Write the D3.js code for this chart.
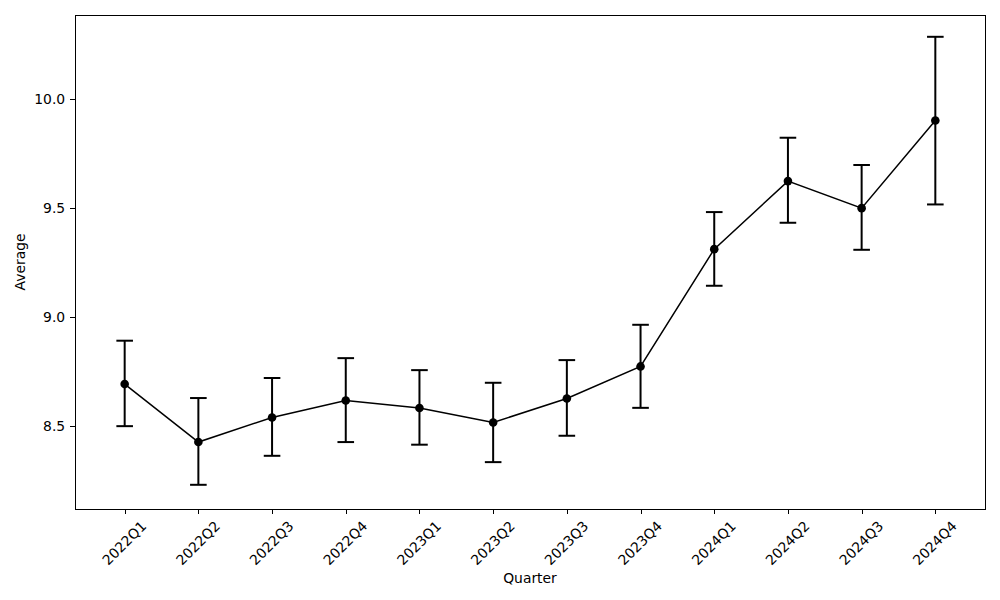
<!DOCTYPE html>
<html><head><meta charset="utf-8">
<script src="https://cdn.jsdelivr.net/npm/d3@7"></script>
<style>body{margin:0;background:#fff}svg{display:block}text{font-family:"DejaVu Sans",sans-serif;fill:#000}</style>
</head><body><svg id="c" width="1000" height="600"></svg>
<script>
const quarters = ["2022Q1","2022Q2","2022Q3","2022Q4","2023Q1","2023Q2","2023Q3","2023Q4","2024Q1","2024Q2","2024Q3","2024Q4"];
const averages = [8.694,8.428,8.541,8.619,8.584,8.518,8.628,8.775,9.313,9.625,9.501,9.903];
const upper    = [8.893,8.630,8.722,8.813,8.758,8.700,8.804,8.966,9.483,9.824,9.699,10.287];
const lower    = [8.501,8.232,8.365,8.428,8.416,8.336,8.457,8.585,9.145,9.434,9.310,9.518];
const yTicks   = [8.5,9.0,9.5,10.0];

const L=75,R=985,T=15,B=509;
const svg=d3.select("#c");
const x=d3.scaleLinear().domain([-0.674,11.674]).range([L,R]);
const y=d3.scaleLinear().domain([8.121,10.387]).range([B,T]);
const data=quarters.map((q,i)=>({q,i,v:averages[i],hi:upper[i],lo:lower[i]}));

// axes
const xa=svg.append("g").attr("transform",`translate(0,${B})`)
  .call(d3.axisBottom(x).tickValues(d3.range(quarters.length)).tickFormat(i=>quarters[i]).tickSize(4.9).tickPadding(4.9));
xa.select(".domain").remove();
xa.selectAll(".tick line").attr("stroke","#000").attr("stroke-width",1).attr("shape-rendering","crispEdges");
xa.selectAll(".tick text").attr("font-size",13.9).attr("text-anchor","middle")
  .attr("dominant-baseline","central").attr("y",34).attr("dy",null).attr("x",-1)
  .attr("transform","rotate(-45,-1,34)");

const ya=svg.append("g").attr("transform",`translate(${L},0)`)
  .call(d3.axisLeft(y).tickValues(yTicks).tickFormat(d3.format(".1f")).tickSize(4.9).tickPadding(4.9));
ya.select(".domain").remove();
ya.selectAll(".tick line").attr("stroke","#000").attr("stroke-width",1).attr("shape-rendering","crispEdges");
ya.selectAll(".tick text").attr("font-size",13.9);

// frame
svg.append("rect").attr("x",L).attr("y",T).attr("width",R-L).attr("height",B-T)
  .attr("fill","none").attr("stroke","#000").attr("stroke-width",1).attr("shape-rendering","crispEdges");

// error bars
const eb=svg.append("g").attr("stroke","#000").attr("stroke-width",2);
eb.selectAll("line.v").data(data).join("line").attr("class","v")
  .attr("x1",d=>x(d.i)).attr("x2",d=>x(d.i)).attr("y1",d=>y(d.lo)).attr("y2",d=>y(d.hi));
eb.selectAll("line.ct").data(data).join("line").attr("class","ct")
  .attr("x1",d=>x(d.i)-8.3).attr("x2",d=>x(d.i)+8.3).attr("y1",d=>y(d.hi)).attr("y2",d=>y(d.hi));
eb.selectAll("line.cb").data(data).join("line").attr("class","cb")
  .attr("x1",d=>x(d.i)-8.3).attr("x2",d=>x(d.i)+8.3).attr("y1",d=>y(d.lo)).attr("y2",d=>y(d.lo));

// line
svg.append("path").datum(data).attr("fill","none").attr("stroke","#000").attr("stroke-width",1.5)
  .attr("d",d3.line().x(d=>x(d.i)).y(d=>y(d.v)));
svg.selectAll("circle.pt").data(data).join("circle").attr("class","pt")
  .attr("cx",d=>x(d.i)).attr("cy",d=>y(d.v)).attr("r",4.3).attr("fill","#000");

// labels
svg.append("text").attr("x",(L+R)/2).attr("y",583).attr("text-anchor","middle").attr("font-size",13.9).text("Quarter");
svg.append("text").attr("transform",`translate(25,${(T+B)/2}) rotate(-90)`).attr("text-anchor","middle").attr("font-size",13.9).text("Average");
</script></body></html>
